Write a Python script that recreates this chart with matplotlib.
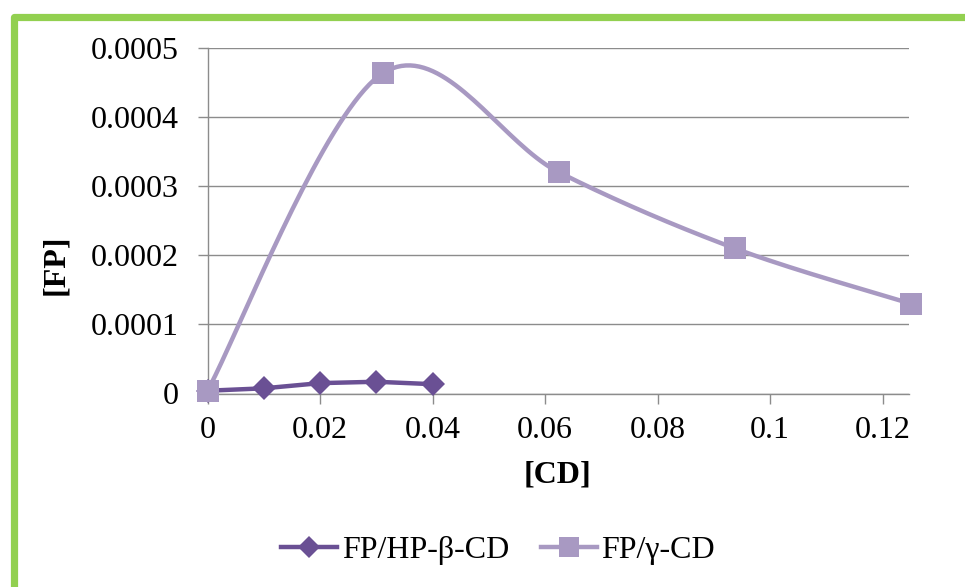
import numpy as np
import matplotlib
matplotlib.use("Agg")
import matplotlib.pyplot as plt
from matplotlib.lines import Line2D

# values
cd_hp = [0, 0.01, 0.02, 0.03, 0.04]
fp_hp = [0.000004, 0.0000075, 0.000015, 0.000017, 0.0000135]
cd_gamma = [0, 0.03125, 0.0625, 0.09375, 0.125]
fp_gamma = [0.000004, 0.000464, 0.00032, 0.00021, 0.00013]

x_ticks = [0, 0.02, 0.04, 0.06, 0.08, 0.1, 0.12]
x_tick_labels = ["0", "0.02", "0.04", "0.06", "0.08", "0.1", "0.12"]
y_ticks = [0, 0.0001, 0.0002, 0.0003, 0.0004, 0.0005]
y_tick_labels = ["0", "0.0001", "0.0002", "0.0003", "0.0004", "0.0005"]

dark = "#6a5094"
light = "#a899c2"
grid_col = "#8c8c8c"


def smooth(xs, ys, n=40):
    # excel-style smoothed line (cubic bezier through the points)
    p = np.column_stack([xs, ys]).astype(float)
    p_ext = np.vstack([p[0], p, p[-1]])
    out = []
    t = np.linspace(0, 1, n)[:, None]
    for i in range(len(p) - 1):
        p0, p1, p2, p3 = p_ext[i], p_ext[i + 1], p_ext[i + 2], p_ext[i + 3]
        c1 = p1 + (p2 - p0) / 6
        c2 = p2 - (p3 - p1) / 6
        seg = ((1 - t) ** 3) * p1 + 3 * ((1 - t) ** 2) * t * c1 + 3 * (1 - t) * t ** 2 * c2 + t ** 3 * p2
        out.append(seg)
    out = np.vstack(out)
    return out[:, 0], out[:, 1]


plt.rcParams['font.family'] = ['Liberation Serif', 'DejaVu Serif']

fig = plt.figure(figsize=(9.65, 5.87), dpi=100)
ax = fig.add_axes([207.5 / 965, 1 - 393.5 / 587, (909 - 207.5) / 965, (393.5 - 48) / 587])

ax.plot(cd_hp, fp_hp, color=dark, lw=3.2, zorder=3, solid_capstyle='round', clip_on=False)
ax.plot(cd_hp, fp_hp, ls='none', marker='D', ms=12.5, color=dark, mew=0, zorder=4, clip_on=False)
sx, sy = smooth(cd_gamma, fp_gamma)
ax.plot(sx, sy, color=light, lw=3.2, zorder=3, solid_capstyle='round', clip_on=False)
ax.plot(cd_gamma, fp_gamma, ls='none', marker='s', ms=15.5, color=light, mew=0, zorder=5, clip_on=False)

ax.set_xlim(0, 0.1247)
ax.set_ylim(0, 0.0005)
ax.set_xticks(x_ticks)
ax.set_xticklabels(x_tick_labels)
ax.set_yticks(y_ticks)
ax.set_yticklabels(y_tick_labels)
ax.tick_params(axis='both', labelsize=23, color=grid_col, length=7, width=1)
ax.tick_params(axis='y', pad=14)
ax.tick_params(axis='x', pad=9)
ax.grid(axis='y', color=grid_col, lw=1)
ax.set_axisbelow(True)
for s in ['top', 'right']:
    ax.spines[s].set_visible(False)
for s in ['left', 'bottom']:
    ax.spines[s].set_color(grid_col)
    ax.spines[s].set_linewidth(1)

fig.text(56 / 965, 1 - 265 / 587, "[FP]", rotation=90, fontsize=23, fontweight='bold',
         ha='center', va='center')
fig.text(558 / 965, 1 - 475 / 587, "[CD]", fontsize=23, fontweight='bold',
         ha='center', va='center')

handles = [
    Line2D([], [], color=dark, lw=3.2, marker='D', ms=11, mew=0),
    Line2D([], [], color=light, lw=3.2, marker='s', ms=14, mew=0),
]
fig.legend(handles, ["FP/HP-β-CD", "FP/γ-CD"], loc='center', bbox_to_anchor=(498 / 965, 1 - 550 / 587),
           ncol=2, frameon=False, fontsize=23, handlelength=1.75, handletextpad=0.15,
           columnspacing=1.0)

# green frame on top and left
fig.add_artist(Line2D([13.5 / 965, 13.5 / 965, 1], [0, 1 - 16.5 / 587, 1 - 16.5 / 587],
                      transform=fig.transFigure, color="#92d050", lw=5.2,
                      solid_joinstyle='round'))

fig.savefig("out.png", dpi=100)
